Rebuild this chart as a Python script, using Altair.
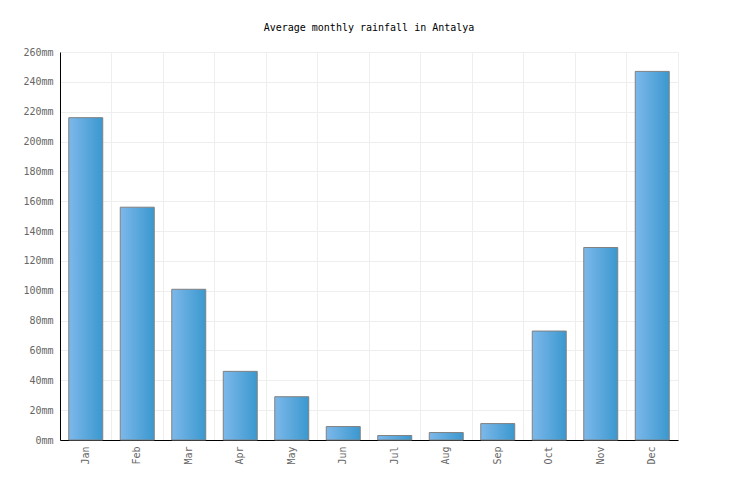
import altair as alt
import pandas as pd

months = ["Jan", "Feb", "Mar", "Apr", "May", "Jun", "Jul", "Aug", "Sep", "Oct", "Nov", "Dec"]
rainfall = [216, 156, 101, 46, 29, 9, 3, 5, 11, 73, 129, 247]
y_ticks = list(range(0, 261, 20))

df = pd.DataFrame({"month": months, "rain": rainfall})

FONT = "DejaVu Sans Mono"

chart = alt.Chart(df).mark_bar(
    width=alt.RelativeBandSize(0.66),
    stroke="#808080",
    strokeWidth=1,
    fill=alt.Gradient(
        gradient="linear",
        stops=[alt.GradientStop(color="#7db8ea", offset=0),
               alt.GradientStop(color="#3a98cf", offset=1)],
        x1=0, x2=1, y1=0, y2=0,
    ),
).encode(
    x=alt.X("month:N", sort=months, title=None,
            scale=alt.Scale(paddingInner=0, paddingOuter=0),
            axis=alt.Axis(labelAngle=270, tickSize=0, labelPadding=6,
                          grid=True, gridColor="#eeeeee", bandPosition=0,
                          domainColor="#000000", labelColor="#666666",
                          labelFont=FONT, labelFontSize=10)),
    y=alt.Y("rain:Q", title=None,
            scale=alt.Scale(domain=[0, 260], nice=False),
            axis=alt.Axis(values=y_ticks, labelExpr="datum.value + 'mm'",
                          tickSize=0, labelPadding=7, gridColor="#eeeeee",
                          domainColor="#000000", labelColor="#666666",
                          labelFont=FONT, labelFontSize=10)),
).properties(
    width=618,
    height=388,
    title=alt.TitleParams("Average monthly rainfall in Antalya", font=FONT,
                          fontSize=10, fontWeight="normal", color="#000000",
                          offset=14),
    autosize=alt.AutoSizeParams(type="none"),
    padding={"left": 52, "top": 44, "right": 50, "bottom": 50},
).configure_view(stroke="#eeeeee")

chart.save("out.html", embed_options={"renderer": "svg", "actions": False})
